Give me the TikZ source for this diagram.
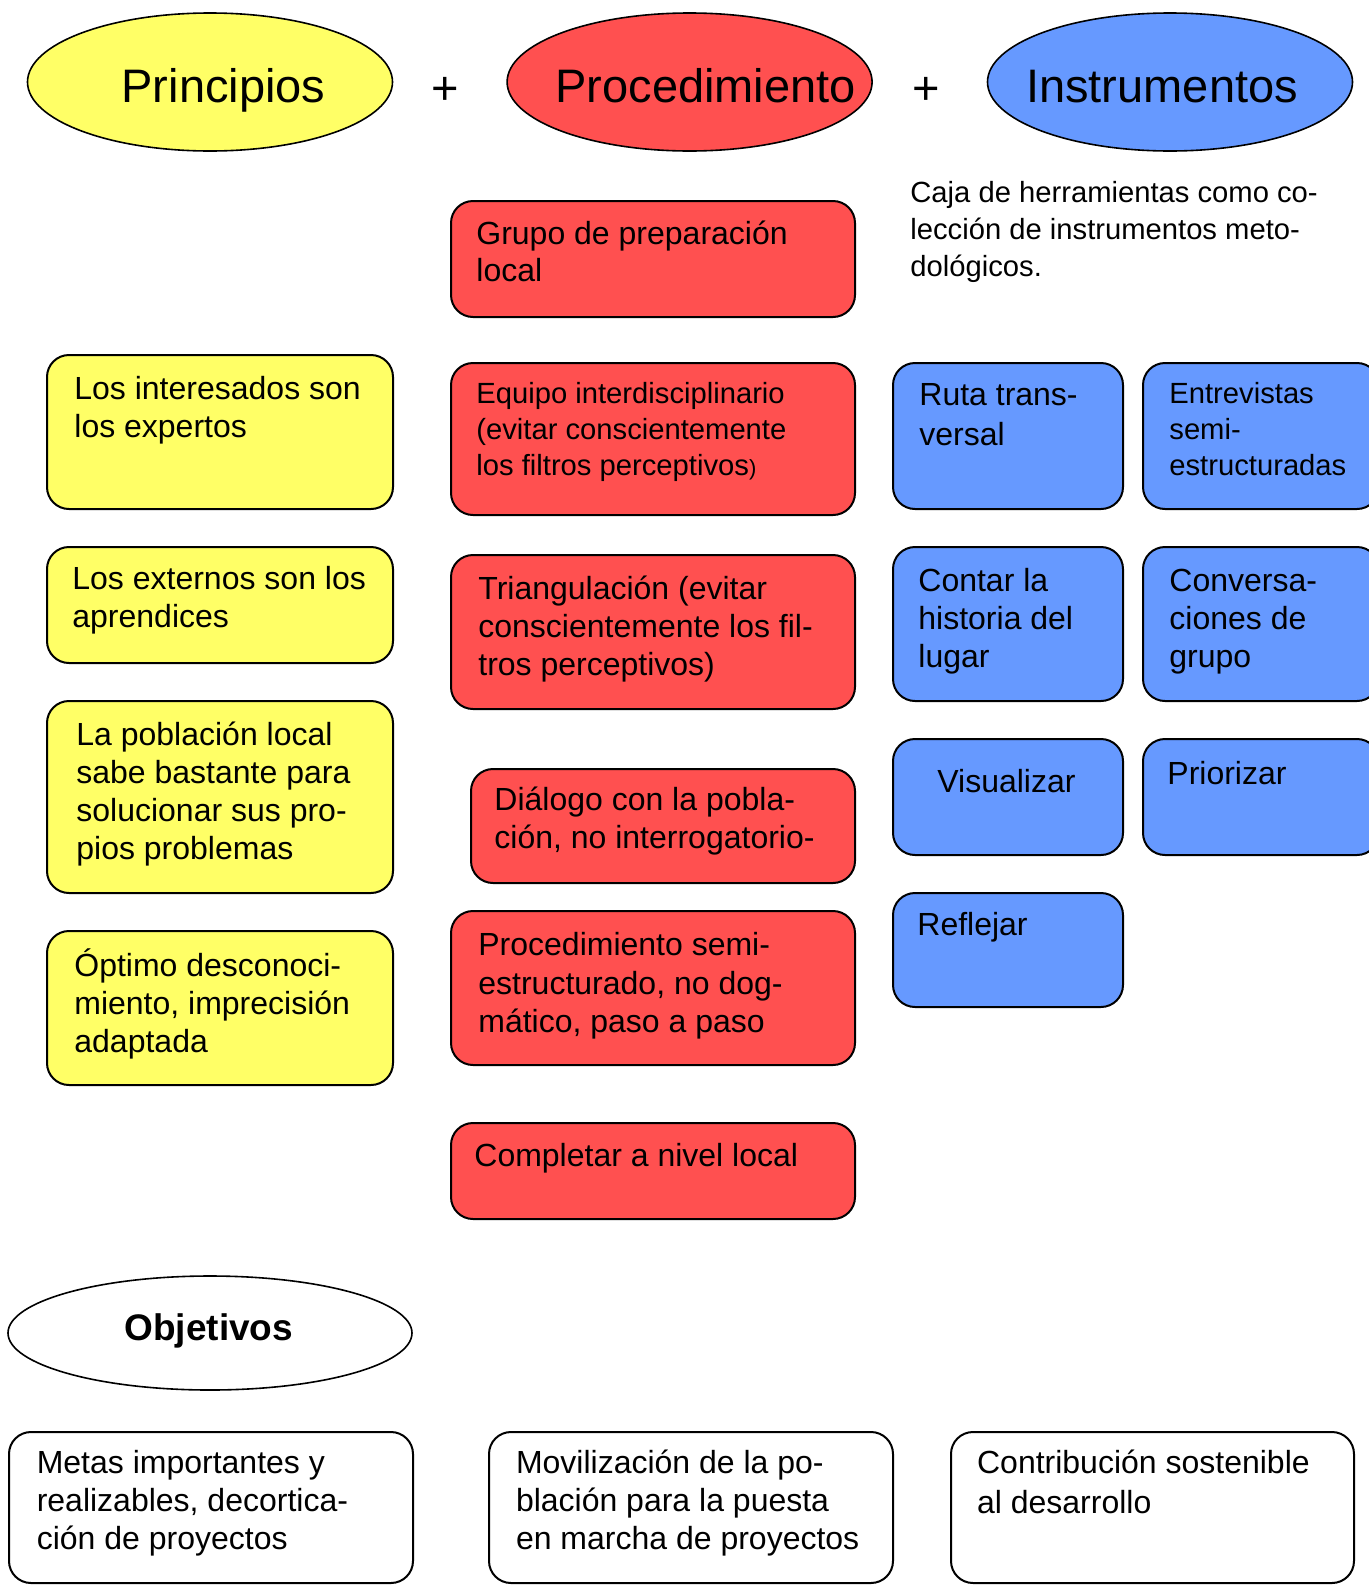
\documentclass[tikz,border=0pt]{standalone}
\usepackage{fontspec}
\setmainfont{Liberation Sans}
\usetikzlibrary{shapes.geometric}
\definecolor{cyel}{RGB}{255,255,102}
\definecolor{cred}{RGB}{255,80,80}
\definecolor{cblue}{RGB}{102,153,255}
\newcommand\stb{\rule{0pt}{16pt}}
\newcommand\sts{\rule{0pt}{15pt}}
\begin{document}
\begin{tikzpicture}[x=0.5pt,y=-0.5pt,
  box/.style={draw=black, line width=1pt, rounded corners=11pt, inner sep=0pt, anchor=north west},
  ell/.style={draw=black, line width=0.8pt, ellipse, inner sep=0pt, minimum width=182.5pt, minimum height=69pt},
  txt/.style={anchor=north west, inner sep=0pt, align=left, font=\fontsize{16}{18.9}\selectfont},
  txts/.style={anchor=north west, inner sep=0pt, align=left, font=\fontsize{14.6}{18}\selectfont},
  ttl/.style={anchor=base, inner sep=0pt, font=\fontsize{23.5}{28}\selectfont}]
\useasboundingbox (0,0) rectangle (1369,1585);
\clip (0,0) rectangle (1369,1585);
\fill[white] (0,0) rectangle (1369,1585);

% header ellipses
\node[ell, fill=cyel] (ep) at (210,82) {};
\node[ell, fill=cred] (epr) at (689.6,82) {};
\node[ell, fill=cblue] (ei) at (1170,82) {};
\node[ttl] (tp) at (223.5,102) {Principios};
\node[ttl] (tpr) at (705.7,102) {Procedimiento};
\node[ttl] (ti) at (1162,102) {Instrumentos};
\node[inner sep=0pt, font=\fontsize{23.5}{28}\selectfont] (plus1) at (445,91) {+};
\node[inner sep=0pt, font=\fontsize{23.5}{28}\selectfont] (plus2) at (926,91) {+};

% caja text
\node[txts, font=\fontsize{14.6}{18.5}\selectfont] (caja) at (910,172) {\sts Caja de herramientas como co-\\lección de instrumentos meto-\\dológicos.};

% red boxes
\node[box, fill=cred, minimum width=202pt, minimum height=58pt] (r1) at (450,200) {};
\node[box, fill=cred, minimum width=202pt, minimum height=76pt] (r2) at (450,362) {};
\node[box, fill=cred, minimum width=202pt, minimum height=77pt] (r3) at (450,554) {};
\node[box, fill=cred, minimum width=192pt, minimum height=57pt] (r4) at (470,768) {};
\node[box, fill=cred, minimum width=202pt, minimum height=77pt] (r5) at (450,910) {};
\node[box, fill=cred, minimum width=202pt, minimum height=48pt] (r6) at (450,1122) {};
\node[txt] (tr1) at (476,211.7) {\stb Grupo de preparación\\local};
\node[txts] (tr2) at (476,373.4) {\sts Equipo interdisciplinario\\(evitar conscientemente\\los filtros perceptivos{\fontsize{11}{13}\selectfont )}};
\node[txt, font=\fontsize{16}{19}\selectfont] (tr3) at (478,567.5) {\stb Triangulación (evitar\\conscientemente los fil-\\tros perceptivos)};
\node[txt] (tr4) at (494,778) {\stb Diálogo con la pobla-\\ción, no interrogatorio-};
\node[txt, font=\fontsize{16}{19.2}\selectfont] (tr5) at (478,923.5) {\stb Procedimiento semi-\\estructurado, no dog-\\mático, paso a paso};
\node[txt] (tr6) at (474,1134) {\stb Completar a nivel local};

% yellow boxes
\node[box, fill=cyel, minimum width=173pt, minimum height=77pt] (y1) at (46,354) {};
\node[box, fill=cyel, minimum width=173pt, minimum height=58pt] (y2) at (46,546) {};
\node[box, fill=cyel, minimum width=173pt, minimum height=96pt] (y3) at (46,700) {};
\node[box, fill=cyel, minimum width=173pt, minimum height=77pt] (y4) at (46,930) {};
\node[txt] (ty1) at (74,367.4) {\stb Los interesados son\\los expertos};
\node[txt] (ty2) at (72,557.5) {\stb Los externos son los\\aprendices};
\node[txt, font=\fontsize{16}{19}\selectfont] (ty3) at (76,713) {\stb La población local\\sabe bastante para\\solucionar sus pro-\\pios problemas};
\node[txt, font=\fontsize{16}{19}\selectfont] (ty4) at (74,943.6) {\stb Óptimo desconoci-\\miento, imprecisión\\adaptada};

% blue boxes
\node[box, fill=cblue, minimum width=115pt, minimum height=73pt] (b1) at (892,362) {};
\node[box, fill=cblue, minimum width=118pt, minimum height=73pt] (b2) at (1142,362) {};
\node[box, fill=cblue, minimum width=115pt, minimum height=77pt] (b3) at (892,546) {};
\node[box, fill=cblue, minimum width=118pt, minimum height=77pt] (b4) at (1142,546) {};
\node[box, fill=cblue, minimum width=115pt, minimum height=58pt] (b5) at (892,738) {};
\node[box, fill=cblue, minimum width=118pt, minimum height=58pt] (b6) at (1142,738) {};
\node[box, fill=cblue, minimum width=115pt, minimum height=57pt] (b7) at (892,892) {};
\node[txt, font=\fontsize{16}{19.7}\selectfont] (tb1) at (919,373.4) {\stb Ruta trans-\\versal};
\node[txts] (tb2) at (1169,373.4) {\sts Entrevistas\\semi-\\estructuradas};
\node[txt, font=\fontsize{16}{19}\selectfont] (tb3) at (918,559.5) {\stb Contar la\\historia del\\lugar};
\node[txt, font=\fontsize{16}{19}\selectfont] (tb4) at (1169,559.5) {\stb Conversa-\\ciones de\\grupo};
\node[txt] (tb5) at (937,759.6) {\stb Visualizar};
\node[txt] (tb6) at (1167,751.6) {\stb Priorizar};
\node[txt] (tb7) at (917,903) {\stb Reflejar};

% objetivos
\node[ell, fill=white, minimum width=202pt, minimum height=57pt] (eo) at (210,1333) {};
\node[anchor=base, inner sep=0pt, font=\fontsize{18.5}{22}\selectfont\bfseries] (to) at (208.8,1340.6) {Objetivos};
\node[box, fill=white, minimum width=202pt, minimum height=75.5pt] (w1) at (8,1431) {};
\node[box, fill=white, minimum width=202pt, minimum height=75.5pt] (w2) at (488,1431) {};
\node[box, fill=white, minimum width=201.5pt, minimum height=75.5pt] (w3) at (950,1431) {};
\node[txt, font=\fontsize{16}{19}\selectfont] (tw1) at (36.4,1441) {\stb Metas importantes y\\realizables, decortica-\\ción de proyectos};
\node[txt, font=\fontsize{16}{19}\selectfont] (tw2) at (515.6,1441) {\stb Movilización de la po-\\blación para la puesta\\en marcha de proyectos};
\node[txt, font=\fontsize{16}{20}\selectfont] (tw3) at (976.7,1441) {\stb Contribución sostenible\\al desarrollo};
\end{tikzpicture}
\end{document}
